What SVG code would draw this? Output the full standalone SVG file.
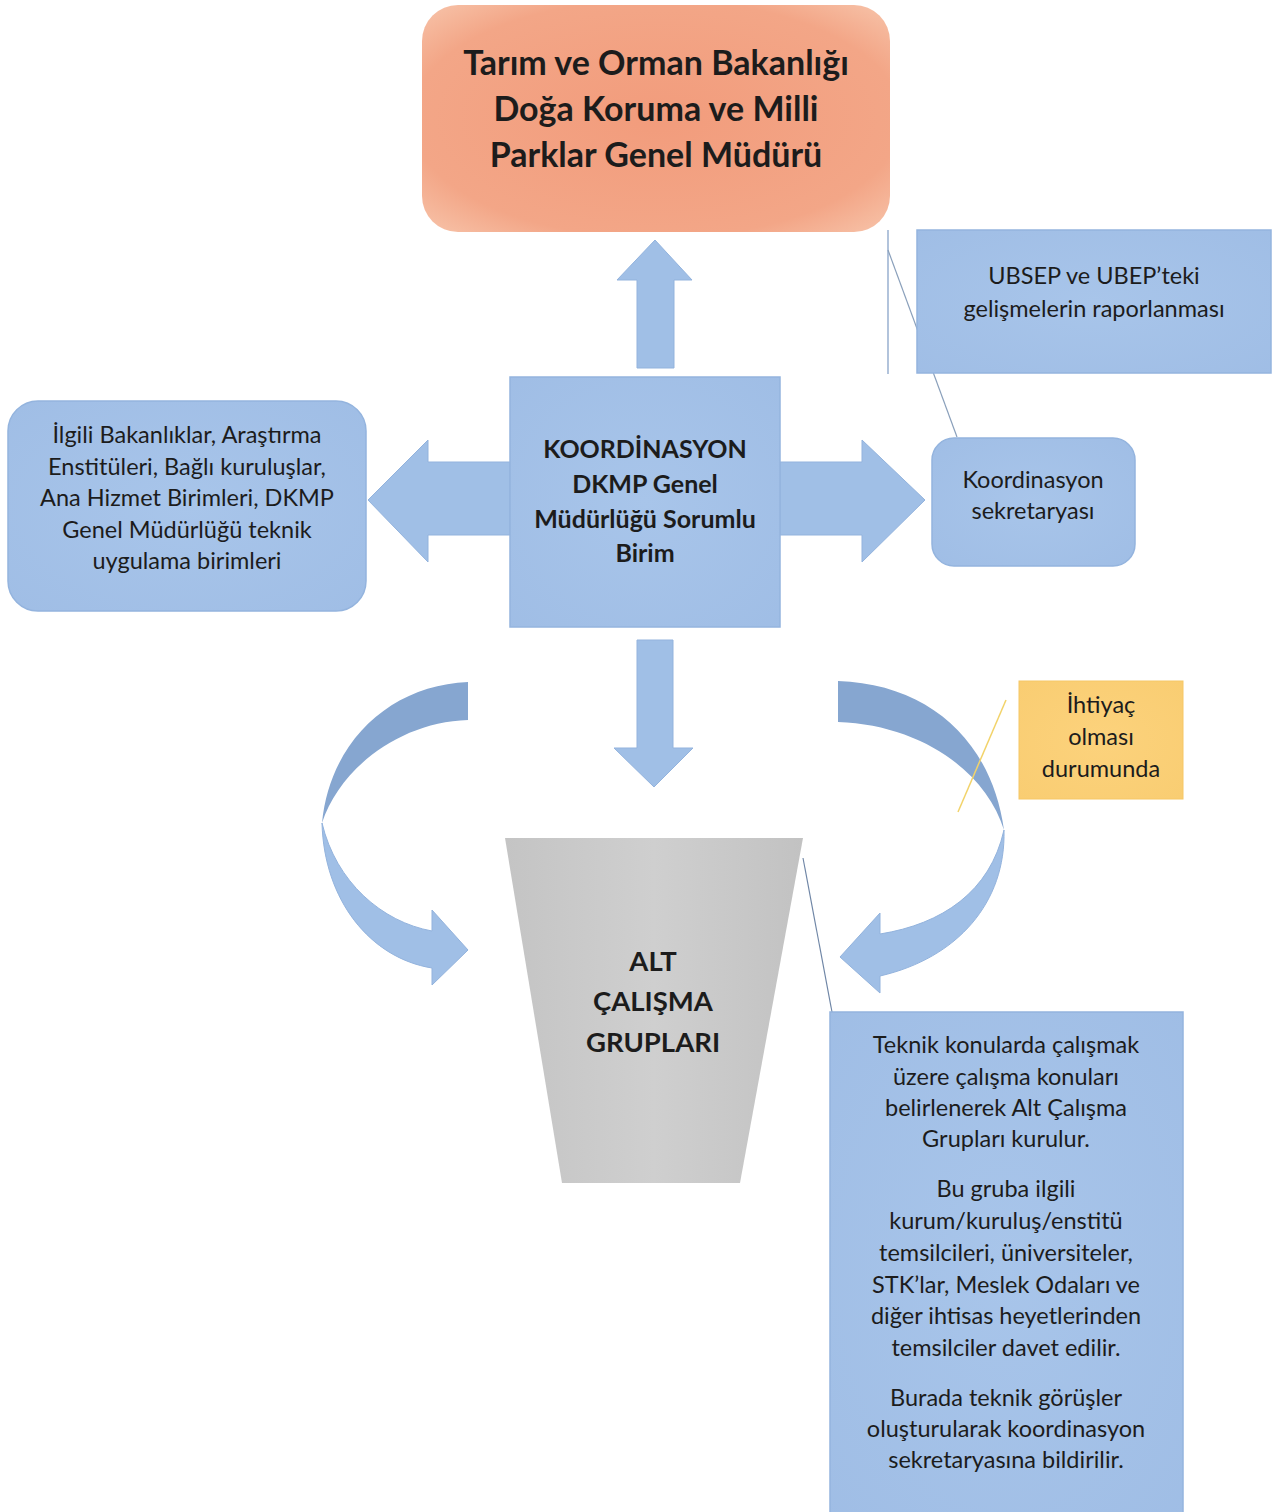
<svg xmlns="http://www.w3.org/2000/svg" width="1274" height="1512" viewBox="0 0 1274 1512">
<defs>
<radialGradient id="gSalmon" cx="50%" cy="50%" r="70%">
<stop offset="0" stop-color="#f29c7c"/><stop offset="0.75" stop-color="#f3a687"/><stop offset="1" stop-color="#f7c3a9"/>
</radialGradient>
<radialGradient id="gBlue" cx="50%" cy="50%" r="75%">
<stop offset="0" stop-color="#a8c5ea"/><stop offset="1" stop-color="#9fbde5"/>
</radialGradient>
<linearGradient id="gGray" x1="0" y1="0" x2="1" y2="0">
<stop offset="0" stop-color="#c4c4c4"/><stop offset="0.5" stop-color="#cfcfcf"/><stop offset="1" stop-color="#c2c2c2"/>
</linearGradient>
<radialGradient id="gYellow" cx="50%" cy="50%" r="70%">
<stop offset="0" stop-color="#fcd27c"/><stop offset="1" stop-color="#f9cd72"/>
</radialGradient>
</defs>
<style>
text{font-family:Lato,"Open Sans","Liberation Sans",sans-serif;fill:#1c1c1c;text-anchor:middle}
.b{font-weight:bold}
.blue{fill:url(#gBlue);stroke:#94b4de;stroke-width:1.5}
.arrow{fill:#a0bfe6;stroke:#93b3dd;stroke-width:1}
.arrowDark{fill:#86a6d0}
.t21{font-size:23.5px}
</style>
<rect width="1274" height="1512" fill="#ffffff"/>

<g id="connectors">
<path class="arrow" d="M637,368 L637,280 L617,280 L655,240 L692,280 L674,280 L674,368 Z"/>
<path class="arrow" d="M510,462 L428,462 L428,440 L368,500 L428,562 L428,535 L510,535 Z"/>
<path class="arrow" d="M780,462 L862,462 L862,440 L925,500 L862,562 L862,535 L780,535 Z"/>
<path class="arrow" d="M637,640 L637,748 L614,748 L654,787 L693,748 L673,748 L673,640 Z"/>
<path class="arrowDark" d="M468,682 C392,685 330,740 322,823 C340,768 400,722 468,720 Z"/>
<path class="arrow" d="M322,823 C324,900 370,958 432,968 L432,985 L468,950 L432,910 L432,931 C382,922 336,882 322,823 Z"/>
<path class="arrowDark" d="M838,681 C930,684 992,742 1004,830 C986,772 922,725 838,722 Z"/>
<path class="arrow" d="M1004,830 C1006,902 958,958 880,976 L880,993 L840,957 L880,913 L880,934 C942,924 990,892 1004,830 Z"/>
<line x1="888" y1="230" x2="888" y2="374" stroke="#7f9cc4" stroke-width="1.2"/>
<line x1="888" y1="250" x2="957" y2="437" stroke="#8aa0bb" stroke-width="1.2"/>
<line x1="1006" y1="700" x2="958" y2="812" stroke="#f2d36a" stroke-width="1.5"/>
<line x1="803" y1="858" x2="832" y2="1012" stroke="#6f86a6" stroke-width="1.2"/>
</g>

<g id="node-bakanlik">
<rect x="422" y="5" width="468" height="227" rx="36" fill="url(#gSalmon)"/>
<text class="b" x="656" y="75" font-size="34">Tarım ve Orman Bakanlığı</text>
<text class="b" x="656" y="121" font-size="34">Doğa Koruma ve Milli</text>
<text class="b" x="656" y="167" font-size="34">Parklar Genel Müdürü</text>
</g>

<g id="node-ubsep">
<rect class="blue" x="917" y="230" width="354" height="143"/>
<text class="t21" x="1094" y="284">UBSEP ve UBEP’teki</text>
<text class="t21" x="1094" y="317">gelişmelerin raporlanması</text>
</g>

<g id="node-koordinasyon">
<rect class="blue" x="510" y="377" width="270" height="250"/>
<text class="b" x="645" y="458" font-size="25">KOORDİNASYON</text>
<text class="b" x="645" y="493" font-size="25">DKMP Genel</text>
<text class="b" x="645" y="528" font-size="25">Müdürlüğü Sorumlu</text>
<text class="b" x="645" y="562" font-size="25">Birim</text>
</g>

<g id="node-ilgili">
<rect class="blue" x="8" y="401" width="358" height="210" rx="30"/>
<text class="t21" x="187" y="443">İlgili Bakanlıklar, Araştırma</text>
<text class="t21" x="187" y="475">Enstitüleri, Bağlı kuruluşlar,</text>
<text class="t21" x="187" y="506">Ana Hizmet Birimleri, DKMP</text>
<text class="t21" x="187" y="538">Genel Müdürlüğü teknik</text>
<text class="t21" x="187" y="569">uygulama birimleri</text>
</g>

<g id="node-sekretarya">
<rect class="blue" x="932" y="438" width="203" height="128" rx="22"/>
<text class="t21" x="1033" y="488">Koordinasyon</text>
<text class="t21" x="1033" y="519">sekretaryası</text>
</g>

<g id="node-ihtiyac">
<rect x="1019" y="681" width="164" height="118" fill="url(#gYellow)" stroke="#f6c766" stroke-width="1"/>
<text class="t21" x="1101" y="713">İhtiyaç</text>
<text class="t21" x="1101" y="745">olması</text>
<text class="t21" x="1101" y="777">durumunda</text>
</g>

<g id="node-alt">
<path d="M505,838 L803,838 L740,1183 L562,1183 Z" fill="url(#gGray)"/>
<text class="b" x="653" y="971" font-size="27.5">ALT</text>
<text class="b" x="653" y="1011" font-size="27.5">ÇALIŞMA</text>
<text class="b" x="653" y="1052" font-size="27.5">GRUPLARI</text>
</g>

<g id="node-teknik">
<rect class="blue" x="830" y="1012" width="353" height="510"/>
<text class="t21" x="1006" y="1053">Teknik konularda çalışmak</text>
<text class="t21" x="1006" y="1085">üzere çalışma konuları</text>
<text class="t21" x="1006" y="1116">belirlenerek Alt Çalışma</text>
<text class="t21" x="1006" y="1147">Grupları kurulur.</text>
<text class="t21" x="1006" y="1197">Bu gruba ilgili</text>
<text class="t21" x="1006" y="1229">kurum/kuruluş/enstitü</text>
<text class="t21" x="1006" y="1261">temsilcileri, üniversiteler,</text>
<text class="t21" x="1006" y="1293">STK’lar, Meslek Odaları ve</text>
<text class="t21" x="1006" y="1324">diğer ihtisas heyetlerinden</text>
<text class="t21" x="1006" y="1356">temsilciler davet edilir.</text>
<text class="t21" x="1006" y="1406">Burada teknik görüşler</text>
<text class="t21" x="1006" y="1437">oluşturularak koordinasyon</text>
<text class="t21" x="1006" y="1468">sekretaryasına bildirilir.</text>
</g>
</svg>
